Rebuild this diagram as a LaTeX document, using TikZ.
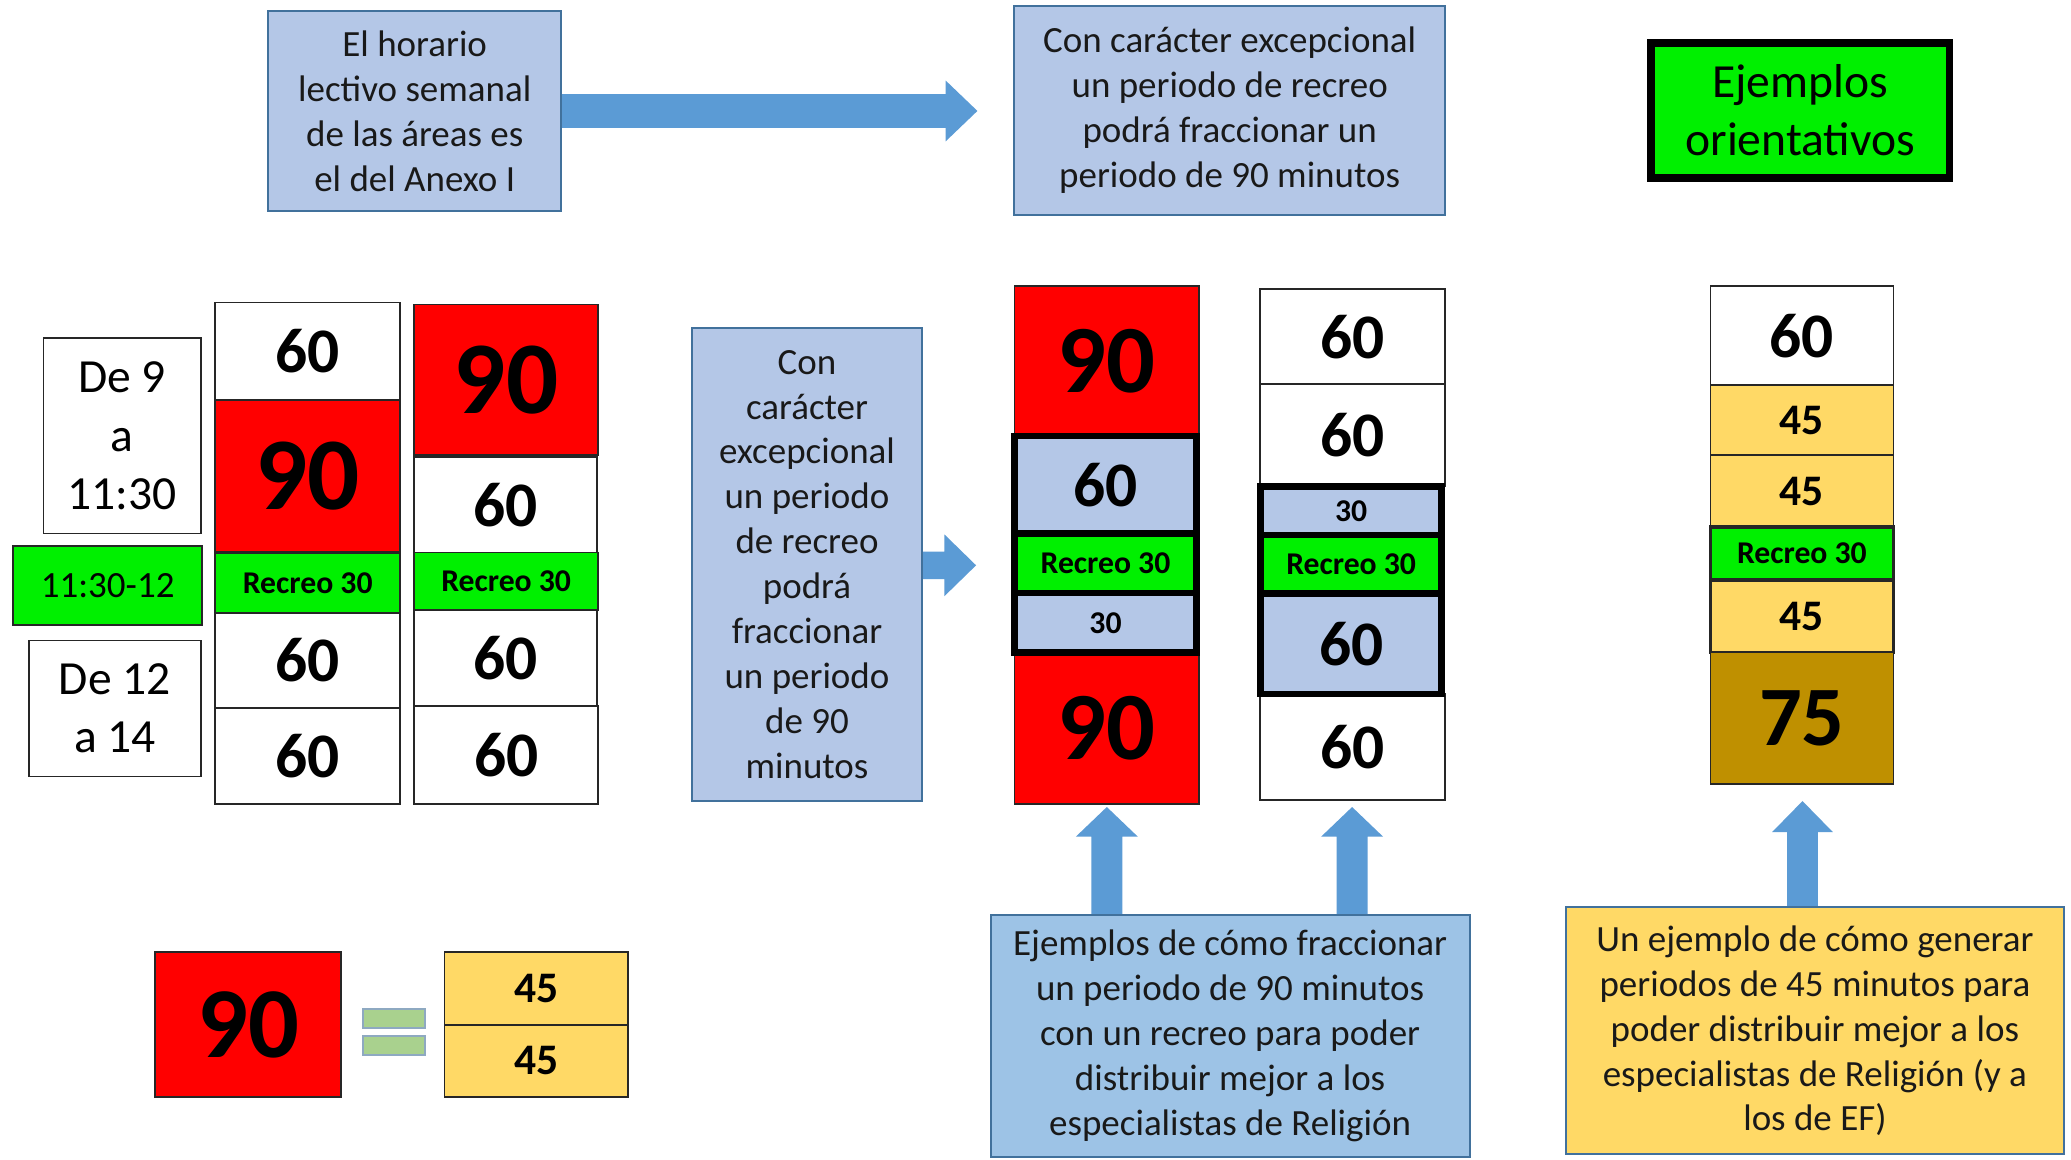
\documentclass[tikz,border=0pt]{standalone}
\usepackage{fontspec}
\setmainfont{Carlito}
\usetikzlibrary{calc,backgrounds}
\definecolor{lblue}{HTML}{B4C7E7}
\definecolor{bblue}{HTML}{41719C}
\definecolor{ablue}{HTML}{5B9BD5}
\definecolor{mblue}{HTML}{9DC3E6}
\definecolor{lgreen}{HTML}{00F000}
\definecolor{yel}{HTML}{FFD966}
\definecolor{gold}{HTML}{BF9000}
\definecolor{eqgreen}{HTML}{A9D18E}
\definecolor{eqborder}{HTML}{8EA9C1}
\newcommand\fsz[2]{\fontsize{#1}{#2}\selectfont}
\newcommand\cellbox[7]{%
  \pgfmathsetmacro\rw{#4-#2}\pgfmathsetmacro\rh{#5-#3}%
  \pgfmathsetmacro\rx{(#2+#4)/2}\pgfmathsetmacro\ry{(#3+#5)/2}%
  \node[#6, minimum width=\rw pt, minimum height=\rh pt] (#1) at (\rx,\ry) {#7};}
% right block arrow: start, tip, half shaft, half head, head length
\newcommand\arrR[5]{\fill[ablue] ($(#1)+(0,#3)$) -- ($(#2)+(-#5,#3)$) -- ($(#2)+(-#5,#4)$) -- (#2) -- ($(#2)+(-#5,-#4)$) -- ($(#2)+(-#5,-#3)$) -- ($(#1)+(0,-#3)$) -- cycle;}
% up block arrow
\newcommand\arrU[5]{\fill[ablue] ($(#1)+(#3,0)$) -- ($(#2)+(#3,#5)$) -- ($(#2)+(#4,#5)$) -- (#2) -- ($(#2)+(-#4,#5)$) -- ($(#2)+(-#3,#5)$) -- ($(#1)+(-#3,0)$) -- cycle;}
\begin{document}
\begin{tikzpicture}[x=1pt,y=-1pt,
  cell/.style={draw=black!85, line width=1.3pt, inner sep=0pt, outer sep=0pt, align=center, fill=white},
  tk/.style={cell, draw=black, line width=5pt},
  tbox/.style={cell, draw=bblue, fill=lblue, line width=1.5pt, font=\fsz{28}{34}, text=black!90},
  red/.style={fill=red},
  grn/.style={fill=lgreen},
  yw/.style={fill=yel},
  n60/.style={font=\bfseries\fsz{48}{58}},
  n90/.style={font=\bfseries\fsz{78}{94}},
  n90c/.style={font=\bfseries\fsz{73}{88}},
  n45/.style={font=\bfseries\fsz{33}{40}},
  n30/.style={font=\bfseries\fsz{24}{29}},
  rec/.style={font=\bfseries\fsz{24}{29}},
  n75/.style={font=\bfseries\fsz{64}{78}},
  ttx/.style={font=\fsz{36}{44}},
]
\useasboundingbox (0,0) rectangle (1568,878);

% top boxes
\cellbox{T1}{203}{8}{425}{160}{tbox}{El horario\\lectivo semanal\\de las áreas es\\el del Anexo I}
\cellbox{T2}{768}{4.5}{1094}{162.5}{tbox}{Con carácter excepcional\\un periodo de recreo\\podrá fraccionar un\\periodo de 90 minutos}
\cellbox{EJ}{1250}{32.4}{1476}{135}{cell, fill=lgreen, draw=black, line width=6pt, font=\fsz{36}{44}}{Ejemplos\\orientativos}

% left labels
\cellbox{L1}{33}{256}{152}{404}{cell, ttx}{De 9\\a\\11:30}
\cellbox{L2}{10}{413.5}{153}{473}{cell, grn, font=\fsz{28}{34}}{11:30-12}
\cellbox{L3}{22}{485}{152}{588}{cell, ttx}{De 12\\a 14}

% column A
\cellbox{A1}{163}{229}{303}{303}{cell, n60}{60}
\cellbox{A2}{163}{303}{303}{418}{cell, red, n90}{90}
\cellbox{A3}{163}{419}{303}{464}{cell, grn, rec}{Recreo 30}
\cellbox{A4}{163}{464}{303}{536}{cell, n60}{60}
\cellbox{A5}{163}{536}{303}{608.6}{cell, n60}{60}

% column B
\cellbox{B1}{313.5}{230.5}{453}{344.4}{cell, red, n90}{90}
\cellbox{B2}{313.5}{346}{452}{418.4}{cell, n60}{60}
\cellbox{B3}{313.5}{418.4}{453}{462}{cell, grn, rec}{Recreo 30}
\cellbox{B4}{313.5}{462}{452}{534.7}{cell, n60}{60}
\cellbox{B5}{313.5}{534.7}{453}{608.6}{cell, n60}{60}

% middle text box
\cellbox{M}{524}{248}{698}{606.5}{tbox}{Con\\carácter\\excepcional\\un periodo\\de recreo\\podrá\\fraccionar\\un periodo\\de 90\\minutos}

% column C
\cellbox{C1}{768}{216.5}{908}{330}{cell, red, n90c}{90}
\cellbox{C5}{768}{494}{908}{608.7}{cell, red, n90c}{90}
\cellbox{C2}{768}{330}{906}{404}{tk, fill=lblue, n60}{60}
\cellbox{C3}{768}{404}{906}{449}{tk, grn, rec}{Recreo 30}
\cellbox{C4}{768}{449}{906}{494}{tk, fill=lblue, n30}{30}

% column D
\cellbox{D1}{954}{218.7}{1094}{291}{cell, n60}{60}
\cellbox{D2}{954}{291}{1094}{368}{cell, n60}{60}
\cellbox{D6}{954}{525.5}{1094}{605.5}{cell, n60}{60}
\cellbox{D3}{954.5}{368.5}{1091.5}{405}{tk, fill=lblue, n30}{30}
\cellbox{D4}{954.5}{405}{1091.5}{449.5}{tk, grn, rec}{Recreo 30}
\cellbox{D5}{954.5}{449.5}{1091.5}{525.5}{tk, fill=lblue, n60}{60}

% column E
\cellbox{E1}{1295}{216.5}{1433.5}{291.7}{cell, n60}{60}
\cellbox{E2}{1295}{291.7}{1433.5}{344.5}{cell, yw, n45}{45}
\cellbox{E3}{1295}{344.5}{1433.5}{399}{cell, yw, n45}{45}
\cellbox{E4}{1295}{399}{1433.5}{439}{cell, grn, rec, line width=2.6pt}{Recreo 30}
\cellbox{E5}{1295}{439}{1433.5}{494}{cell, yw, n45, line width=2.6pt}{45}
\cellbox{E6}{1295}{494}{1433.5}{593.6}{cell, fill=gold, n75}{75}

% bottom left equivalence
\cellbox{R}{117.4}{721}{258.4}{830.4}{cell, red, font=\bfseries\fsz{76}{92}}{90}
\cellbox{Q1}{275}{764}{322}{778.6}{cell, fill=eqgreen, draw=eqborder, line width=1.5pt}{}
\cellbox{Q2}{275}{784}{322}{798.5}{cell, fill=eqgreen, draw=eqborder, line width=1.5pt}{}
\cellbox{Y1}{336.6}{721}{475.6}{776}{cell, yw, n45}{45}
\cellbox{Y2}{336.6}{776}{475.6}{830.4}{cell, yw, n45}{45}

% bottom explanation boxes
\cellbox{BB}{750}{692.5}{1112.7}{876}{tbox, fill=mblue}{Ejemplos de cómo fraccionar\\un periodo de 90 minutos\\con un recreo para poder\\distribuir mejor a los\\especialistas de Religión}
\cellbox{YB}{1185.7}{687}{1562.5}{874}{tbox, fill=yel}{Un ejemplo de cómo generar\\periodos de 45 minutos para\\poder distribuir mejor a los\\especialistas de Religión (y a\\los de EF)}

% arrows
\coordinate (t1) at (740,84);
\coordinate (t2) at (739,428);
\coordinate (tC) at (838,611);
\coordinate (tD) at (1023.7,611);
\coordinate (tE) at (1364.7,606.5);
\coordinate (sC) at (tC |- BB.north);
\coordinate (sD) at (tD |- BB.north);
\coordinate (sE) at (tE |- YB.north);
\coordinate (s2) at (M.east |- t2);
\begin{scope}[on background layer]
\fill[white] (0,0) rectangle (1568,878);
\arrR{T1.east}{t1}{12.75}{23}{24}
\arrR{s2}{t2}{10.4}{23.4}{24}
\arrU{sC}{tC}{11.7}{23.5}{22.5}
\arrU{sD}{tD}{11.7}{23.5}{22.5}
\arrU{sE}{tE}{11.6}{23}{23.5}
\end{scope}
\end{tikzpicture}
\end{document}
